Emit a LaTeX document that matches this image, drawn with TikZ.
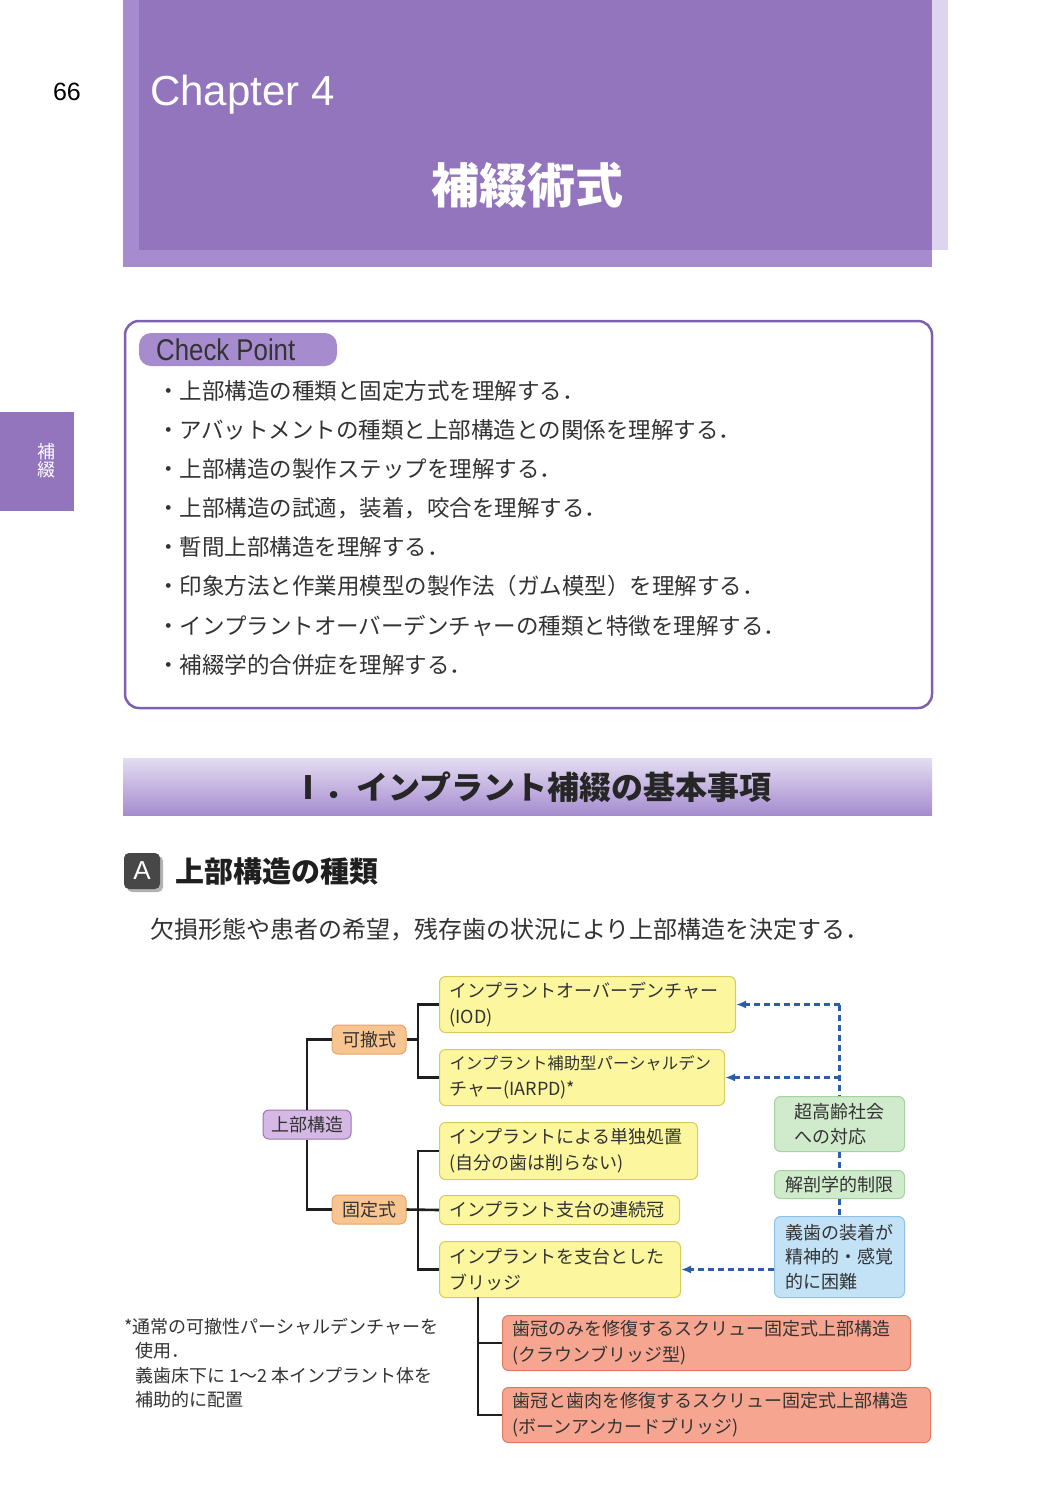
\documentclass[tikz,border=0pt]{standalone}
\usepackage{fontspec}
\setmainfont{Noto Sans CJK JP}
\newfontfamily\lat{Liberation Sans}
\usetikzlibrary{arrows.meta}
\definecolor{hdr}{HTML}{9375BE}
\definecolor{hdrl}{HTML}{A68CCF}
\definecolor{hdrs}{HTML}{DDD4EF}
\definecolor{cpb}{HTML}{7E61AE}
\definecolor{txt}{HTML}{333333}
\definecolor{yf}{HTML}{FCF69E}
\definecolor{yd}{HTML}{D6CB5C}
\definecolor{of}{HTML}{F8C48F}
\definecolor{od}{HTML}{E6A466}
\definecolor{pf}{HTML}{D5B8E4}
\definecolor{pd}{HTML}{9C72B8}
\definecolor{gf}{HTML}{CFEBCB}
\definecolor{gd}{HTML}{A3D39E}
\definecolor{bf}{HTML}{C3E2F6}
\definecolor{bd}{HTML}{8FC2E5}
\definecolor{rf}{HTML}{F6A690}
\definecolor{rd}{HTML}{DE7A62}
\definecolor{dsh}{HTML}{2C5DA9}
\begin{document}
\begin{tikzpicture}[x=1pt,y=-1pt,
  bx/.style={draw, rounded corners=6pt, line width=1pt, inner xsep=10pt, inner ysep=0pt, align=left, anchor=north west, text=txt, font=\fontsize{18}{26}\selectfont},
  yb/.style={bx, fill=yf, draw=yd},
  rb/.style={bx, fill=rf, draw=rd},
  tagbox/.style={draw, rounded corners=6pt, line width=1pt, inner sep=0pt, minimum height=29pt, text=txt, font=\fontsize{18}{26}\selectfont},
  ob/.style={tagbox, fill=of, draw=od, minimum width=74pt},
  pb/.style={tagbox, fill=pf, draw=pd, minimum width=88pt},
  sidebox/.style={draw, rounded corners=6pt, line width=1pt, inner sep=0pt, minimum width=130pt, align=left, anchor=north west, text=txt, font=\fontsize{18}{24.5}\selectfont},
  gb/.style={sidebox, fill=gf, draw=gd},
  bb/.style={sidebox, fill=bf, draw=bd},
  conn/.style={line width=2.6pt, black!88},
  dl/.style={draw=dsh, line width=2.2pt, dash pattern=on 6pt off 4pt},
  tip/.style={-{Latex[length=10pt,width=8pt]}, dsh},
  cptext/.style={anchor=west, inner sep=0pt, text=txt, font=\fontsize{22.5}{26}\selectfont},
  fn/.style={anchor=west, inner sep=0pt, text=txt, font=\fontsize{18}{24}\selectfont}
]
% page background / bounding box
\fill[white] (0,0) rectangle (1055,1500);
\useasboundingbox (0,0) rectangle (1055,1500);

% header
\fill[hdrs] (139,0) rectangle (948,250);
\fill[hdrl] (123,0) rectangle (932,267);
\fill[hdr] (139,0) rectangle (932,250);
\node[anchor=west, inner sep=0pt, text=white, font=\lat\fontsize{42}{42}\selectfont] (ch) at (150,95) {Chapter 4};
\node[inner sep=0pt, text=white, font=\bfseries\fontsize{48}{48}\selectfont] (title) at (527,185) {補綴術式};
\node[inner sep=0pt, text=black, font=\lat\fontsize{25}{25}\selectfont] (pg) at (67,92) {66};

% side tab
\fill[hdr] (0,412) rectangle (74,511);
\node[inner sep=0pt, text=white, font=\fontsize{18}{18}\selectfont] (tab1) at (46,452) {補};
\node[inner sep=0pt, text=white, font=\fontsize{18}{18}\selectfont] (tab2) at (46,470) {綴};

% check point box
\draw[cpb, line width=2.5pt, rounded corners=14pt, fill=white] (125,321) rectangle (932,708);
\fill[hdrl, rounded corners=12pt] (139,333) rectangle (337,366);
\node[anchor=west, inner sep=0pt, text=txt] (cp) at (156,349.5) {\scalebox{0.86}[1]{\lat\fontsize{30}{30}\selectfont Check Point}};
\node[cptext] (c1) at (157,391) {・上部構造の種類と固定方式を理解する．};
\node[cptext] (c2) at (157,430) {・アバットメントの種類と上部構造との関係を理解する．};
\node[cptext] (c3) at (157,469) {・上部構造の製作ステップを理解する．};
\node[cptext] (c4) at (157,508) {・上部構造の試適，装着，咬合を理解する．};
\node[cptext] (c5) at (157,547) {・暫間上部構造を理解する．};
\node[cptext] (c6) at (157,586) {・印象方法と作業用模型の製作法（ガム模型）を理解する．};
\node[cptext] (c7) at (157,626) {・インプラントオーバーデンチャーの種類と特徴を理解する．};
\node[cptext] (c8) at (157,665) {・補綴学的合併症を理解する．};

% section bar
\shade[top color=hdrs!80!white, bottom color=hdrl] (123,758) rectangle (932,815);
\node[inner sep=0pt, text=black!85, font=\bfseries\fontsize{32}{32}\selectfont] (sec) at (532,787) {Ⅰ．インプラント補綴の基本事項};

% subsection
\fill[black!30, rounded corners=5pt] (127,856) rectangle (163,892);
\fill[black!72, rounded corners=5pt] (124,853) rectangle (160,889);
\node[inner sep=0pt, text=white, font=\lat\fontsize{26}{26}\selectfont] (abadge) at (142,871) {A};
\node[anchor=west, inner sep=0pt, text=black!88, font=\bfseries\fontsize{29}{29}\selectfont] (subsec) at (175,871) {上部構造の種類};
\node[anchor=west, inner sep=0pt, text=txt, font=\fontsize{24}{24}\selectfont] (lead) at (150,930) {欠損形態や患者の希望，残存歯の状況により上部構造を決定する．};

% diagram nodes
\node[pb] (jb) at (307,1124.5) {上部構造};
\node[ob] (ka) at (369,1039.5) {可撤式};
\node[ob] (ko) at (369,1209.5) {固定式};

\node[yb, text width=276pt, minimum height=56pt] (iod) at (439,976) {インプラントオーバーデンチャー\\(IOD)};
\node[yb, text width=265pt, minimum height=56pt] (iarpd) at (439,1049) {{\fontsize{16.4}{26}\selectfont インプラント補助型パーシャルデン}\\チャー(IARPD)*};
\node[yb, text width=238pt, minimum height=57pt] (tan) at (439,1122) {インプラントによる単独処置\\(自分の歯は削らない)};
\node[yb, text width=220pt, minimum height=29pt] (ren) at (439,1195) {インプラント支台の連続冠};
\node[yb, text width=221pt, minimum height=56pt] (bri) at (439,1241) {インプラントを支台とした\\ブリッジ};

\node[rb, text width=388pt, minimum height=55pt] (r1) at (502,1315) {歯冠のみを修復するスクリュー固定式上部構造\\(クラウンブリッジ型)};
\node[rb, text width=408pt, minimum height=55pt] (r2) at (502,1387) {歯冠と歯肉を修復するスクリュー固定式上部構造\\(ボーンアンカードブリッジ)};

\node[gb, minimum height=55pt] (g1) at (774,1096) {超高齢社会\\への対応};
\node[gb, minimum height=28pt] (g2) at (774,1170) {解剖学的制限};
\node[bb, minimum height=81pt] (bl) at (774,1216) {義歯の装着が\\精神的・感覚\\的に困難};

% solid connectors
\coordinate (b1) at (418,1039.5);
\coordinate (b2) at (418,1209.5);
\coordinate (b3) at (478,1297);
\draw[conn] (jb.north) |- (ka.west);
\draw[conn] (jb.south) |- (ko.west);
\draw[conn] (ka.east) -- (b1);
\draw[conn] (iod.west) -| (b1) |- (iarpd.west);
\draw[conn] (ko.east) -- (ren.west);
\draw[conn] (tan.west) -| (b2) |- (bri.west);
\draw[conn] (b3) |- (r2.west);
\draw[conn] (r1.west) -| (b3);

% dashed connectors
\coordinate (d1) at (g1.north |- iod.east);
\coordinate (d2) at (g1.north |- iarpd.east);
\draw[dl] (d1) -- (g1.north);
\draw[dl] (g1.south) -- (g2.north);
\draw[dl] (g2.south) -- (bl.north);
\draw[dl, tip] (d1) -- (iod.east);
\draw[dl, tip] (d2) -- (iarpd.east);
\draw[dl, tip] (bl.west |- bri.east) -- (bri.east);

% footnote
\node[fn] (f1) at (124,1327) {*通常の可撤性パーシャルデンチャーを};
\node[fn] (f2) at (135,1351) {使用．};
\node[fn] (f3) at (135,1376) {義歯床下に 1～2 本インプラント体を};
\node[fn] (f4) at (135,1400) {補助的に配置};
\end{tikzpicture}
\end{document}
